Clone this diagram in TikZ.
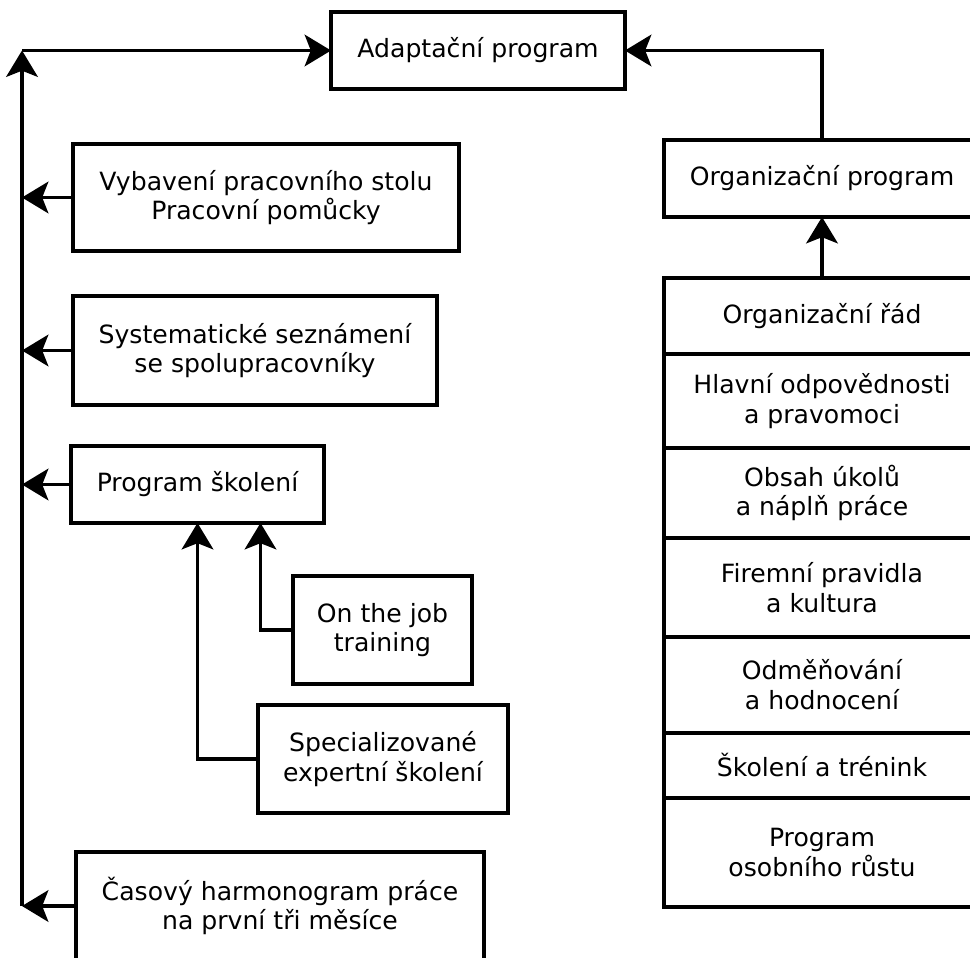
\documentclass[tikz,border=0pt]{standalone}
\usepackage{fontspec}
\setmainfont{DejaVu Sans}
\usepackage{tikz}
\usetikzlibrary{positioning,calc,arrows.meta}

\begin{document}
\begin{tikzpicture}[x=0.02cm, y=-0.02cm, line width=1.9pt,
    box/.style={draw, rectangle, align=center, outer sep=0pt, fill=white, font=\fontsize{14.3}{17}\selectfont},
    cell/.style={box, minimum width=6.32cm},
    arr/.style={-{Stealth[length=15pt,width=18pt,inset=3.5pt]}}]
    \useasboundingbox (0,0) rectangle (970,957);

    % Top
    \node [box, minimum width=5.88cm, minimum height=1.54cm] (adapt) at (478,50.5) {Adaptační program};
    \node [box, minimum width=6.32cm, minimum height=1.54cm] (orgprog) at (822,178.5) {Organizační program};

    % Left column
    \node [box, minimum width=7.72cm, minimum height=2.14cm] (vyb) at (266,197.5) {Vybavení pracovního stolu\\Pracovní pomůcky};
    \node [box, minimum width=7.28cm, minimum height=2.18cm] (sys) at (255,350.5) {Systematické seznámení\\se spolupracovníky};
    \node [box, minimum width=5.06cm, minimum height=1.54cm] (prog) at (197.5,484.5) {Program školení};
    \node [box, minimum width=3.58cm, minimum height=2.16cm] (job) at (382.5,630) {On the job\\training};
    \node [box, minimum width=5.0cm, minimum height=2.16cm] (spec) at (383,759) {Specializované\\expertní školení};
    \node [box, minimum width=8.16cm, minimum height=2.16cm] (cas) at (280,906) {Časový harmonogram práce\\na první tři měsíce};

    % Stack on the right
    \node [cell, minimum height=1.52cm] (rad) at (822,316) {Organizační řád};
    \node [cell, minimum height=1.88cm, below=0pt of rad] (hlav) {Hlavní odpovědnosti\\a pravomoci};
    \node [cell, minimum height=1.8cm, below=0pt of hlav] (obsah) {Obsah úkolů\\a náplň práce};
    \node [cell, minimum height=1.98cm, below=0pt of obsah] (firm) {Firemní pravidla\\a kultura};
    \node [cell, minimum height=1.92cm, below=0pt of firm] (odm) {Odměňování\\a hodnocení};
    \node [cell, minimum height=1.3cm, below=0pt of odm] (skol) {Školení a trénink};
    \node [cell, minimum height=2.18cm, below=0pt of skol] (rust) {Program\\osobního růstu};

    % Trunk
    \coordinate (trunkbot) at (22,906);
    \coordinate (trunktop) at (trunkbot |- adapt.west);
    \draw [arr] (trunkbot) -- (trunktop);
    \draw [arr] (trunktop) -- (adapt.west);
    \draw [arr] (vyb.west) -- (vyb.west -| trunkbot);
    \draw [arr] (sys.west) -- (sys.west -| trunkbot);
    \draw [arr] (prog.west) -- (prog.west -| trunkbot);
    \draw [arr] (cas.west) -- (cas.west -| trunkbot);

    \draw [arr] (spec.west) -| (prog.south);
    \draw [arr] (job.west) -| ([xshift=1.26cm]prog.south);

    \draw [arr] (rad.north) -- (orgprog.south);
    \draw [arr] (orgprog.north) |- (adapt.east);
\end{tikzpicture}
\end{document}
